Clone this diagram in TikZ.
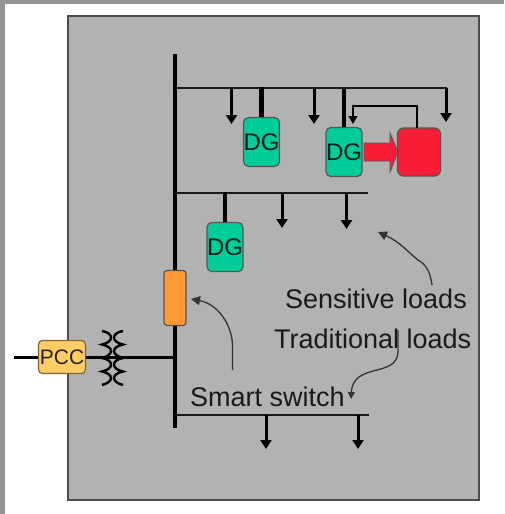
\documentclass[tikz,border=0pt]{standalone}
\usepackage{fontspec}
\setmainfont{Liberation Sans}
\usetikzlibrary{arrows.meta}
\definecolor{panel}{HTML}{B2B2B2}
\definecolor{dgc}{HTML}{00CC99}
\definecolor{redc}{HTML}{F91C36}
\definecolor{orangec}{HTML}{FF9933}
\definecolor{pccc}{HTML}{FFCC66}
\definecolor{edgec}{HTML}{555555}
\definecolor{textc}{HTML}{1A1A1A}
\tikzset{
  x=1pt,y=-1pt,
  bus/.style={line width=3.3pt,black},
  feeder/.style={line width=2.7pt,black!90},
  loadarrow/.style={line width=3pt,black,-{Triangle[width=11pt,length=9pt]}},
  dgstub/.style={line width=4.6pt,black},
  dgbox/.style={draw=edgec,line width=1.2pt,fill=dgc,rounded corners=5pt,minimum width=36pt,minimum height=49pt,inner sep=0pt,font=\fontsize{24}{24}\selectfont,text=black!85!dgc},
  callout/.style={line width=1.3pt,black!80,-{Triangle[width=9pt,length=9pt]}},
  label/.style={inner sep=0pt,font=\fontsize{27}{27}\selectfont,text=textc,anchor=base west},
  coil/.style={line width=2.4pt,black}
}
\begin{document}
\begin{tikzpicture}
\useasboundingbox (0,0) rectangle (504,514);
\fill[white] (0,0) rectangle (504,514);
\fill[black!42] (0,0) rectangle (5,514);
\fill[black!42] (0,0) rectangle (504,4);
\draw[fill=panel,draw=black!70,line width=1.6pt] (68,16) rectangle (479,500);
% junction coordinates
\coordinate (trunkT) at (175,54);
\coordinate (trunkB) at (175,428);
\coordinate (j1) at (175,88);
\coordinate (e1) at (447,88);
\coordinate (j2) at (175,193);
\coordinate (e2) at (368,193);
\coordinate (j3) at (175,415);
\coordinate (e3) at (369,415);
\coordinate (jp) at (175,357);
\coordinate (w0) at (14,357);
% buses
\draw[bus] (trunkT) -- (trunkB);
\draw[feeder] (j1) -- (e1);
\draw[feeder] (j2) -- (e2);
\draw[feeder] (j3) -- (e3);
% boxes
\node[dgbox] (dg1) at (261.5,142) {DG};
\node[dgbox] (dg2) at (344,152) {DG};
\node[dgbox] (dg3) at (225,247) {DG};
\node[draw=edgec,line width=1.2pt,fill=redc,rounded corners=6pt,minimum width=43pt,minimum height=48pt,inner sep=0pt] (red) at (419,152) {};
\node[draw=edgec,line width=1.2pt,fill=orangec,rounded corners=3pt,minimum width=22pt,minimum height=55pt,inner sep=0pt] (sw) at (175,298) {};
% stubs
\draw[dgstub] (261.5,87) -- (dg1.north);
\draw[dgstub] (344,89) -- (dg2.north);
\draw[dgstub] (225,192) -- (dg3.north);
% load arrows
\foreach \xa/\ya/\yb in {231.5/88/124, 314/88/124, 446/88/122, 282/193/228, 346.5/193/229, 266/415/449, 358/415/449}
  \draw[loadarrow] (\xa,\ya) -- (\xa,\yb);
% red arrow
\draw[draw=edgec,line width=.8pt,fill=redc] (364,143) -- (390,143) -- (390,133) -- (398,152) -- (390,172) -- (390,161) -- (364,161) -- cycle;
% control feedback
\draw[line width=1.3pt,black,-{Triangle[width=9pt,length=8pt]}] (417,128) -- (417,106) -- (353,106) -- (353,124);
% PCC line
\draw[line width=3pt,black] (w0) -- (40,357);
\draw[line width=3pt,black] (84,357) -- (jp);
% transformer
\foreach \xo/\d in {102/1,123/-1}{
  \draw[coil] (\xo,331)
    .. controls (\xo+\d*12,333) and (\xo+\d*12,342) .. (\xo,344.5)
    .. controls (\xo+\d*12,347) and (\xo+\d*12,355) .. (\xo,358)
    .. controls (\xo+\d*12,360) and (\xo+\d*12,369) .. (\xo,371.5)
    .. controls (\xo+\d*12,374) and (\xo+\d*12,382) .. (\xo,385);
}
\node[draw=black!50!pccc,line width=1.2pt,fill=pccc,rounded corners=4pt,minimum width=47pt,minimum height=33pt,inner sep=0pt,font=\fontsize{21}{21}\selectfont,text=black!85] (pcc) at (62,357) {PCC};
% labels
\node[label] (sl) at (285,308) {Sensitive loads};
\node[label] (tl) at (274,348) {Traditional loads};
\node[label] (ss) at (190,406) {Smart switch};
% callouts
\draw[callout] (232.5,370) -- (232.5,345) .. controls (232,325) and (218,304) .. (191,299);
\draw[callout] (432,285) .. controls (430,270) and (425,264) .. (418,260) .. controls (408,252) and (400,242) .. (378,232);
\draw[callout,-{Triangle[width=7pt,length=7pt]}] (398,330) -- (398,352) .. controls (397,378) and (353,362) .. (351,399);
\end{tikzpicture}
\end{document}
